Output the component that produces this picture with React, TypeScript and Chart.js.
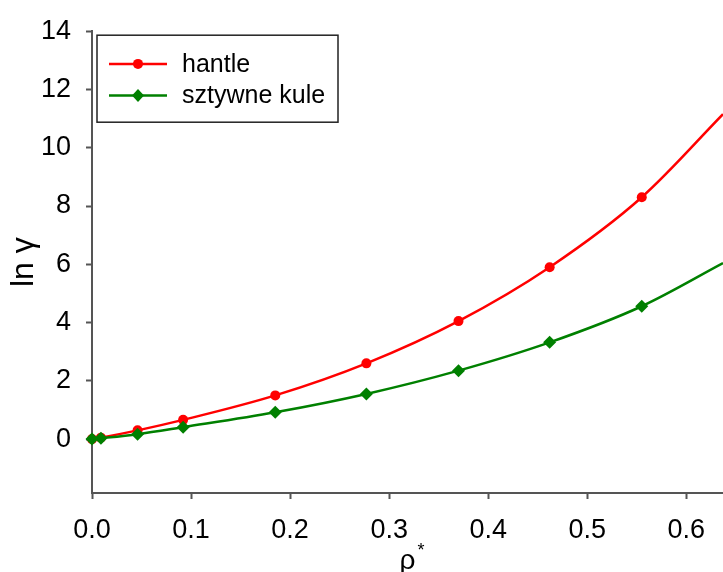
import React, { useEffect, useRef } from "react";
import { Chart, registerables } from "chart.js";

Chart.register(...registerables);

// reduced density (x) at the measured points
const rho = [0, 0.009, 0.046, 0.092, 0.185, 0.277, 0.37, 0.462, 0.555];
// ln gamma for dumbbells ("hantle")
const hantle = [0, 0.05, 0.3, 0.66, 1.5, 2.6, 4.05, 5.9, 8.3];
// ln gamma for hard spheres ("sztywne kule")
const sztywneKule = [0, 0.03, 0.17, 0.41, 0.92, 1.55, 2.35, 3.32, 4.56];
// where each fitted curve leaves the plot on the right edge
const rhoEdge = 0.637;
const hantleEdge = 11.15;
const kuleEdge = 6.04;

const xTicks = [0, 0.1, 0.2, 0.3, 0.4, 0.5, 0.6];
const yTicks = [0, 2, 4, 6, 8, 10, 12, 14];
const seriesNames = ["hantle", "sztywne kule"];
const seriesColors = ["#ff0000", "#008000"];
const seriesMarkers = ["circle", "rectRot"];

const FONT = "'Liberation Sans', Arial, sans-serif";
const AXIS = "#555555";

function drawMarker(ctx: CanvasRenderingContext2D, style: string, x: number, y: number, color: string) {
  ctx.fillStyle = color;
  ctx.beginPath();
  if (style === "circle") {
    ctx.arc(x, y, 5, 0, Math.PI * 2);
  } else {
    ctx.moveTo(x, y - 6.5);
    ctx.lineTo(x + 6, y);
    ctx.lineTo(x, y + 6.5);
    ctx.lineTo(x - 6, y);
    ctx.closePath();
  }
  ctx.fill();
}

const boxLegend = {
  id: "boxLegend",
  afterDatasetsDraw(chart: any) {
    const { ctx, chartArea } = chart;
    const x0 = chartArea.left + 5;
    const y0 = chartArea.top + 4;
    const w = 241;
    const h = 87;
    ctx.save();
    ctx.fillStyle = "#ffffff";
    ctx.fillRect(x0, y0, w, h);
    ctx.strokeStyle = "#222222";
    ctx.lineWidth = 1.5;
    ctx.strokeRect(x0, y0, w, h);
    seriesNames.forEach((name, i) => {
      const y = y0 + 28.7 + i * 31.6;
      ctx.strokeStyle = seriesColors[i];
      ctx.lineWidth = 2.5;
      ctx.beginPath();
      ctx.moveTo(x0 + 12, y);
      ctx.lineTo(x0 + 70, y);
      ctx.stroke();
      drawMarker(ctx, seriesMarkers[i], x0 + 41, y, seriesColors[i]);
      ctx.fillStyle = "#000000";
      ctx.font = `25px ${FONT}`;
      ctx.textBaseline = "middle";
      ctx.textAlign = "left";
      ctx.fillText(name, x0 + 85, y + 1);
    });
    ctx.restore();
  },
};

// superscript asterisk of the x-axis title (rho*)
const titleStar = {
  id: "titleStar",
  afterDraw(chart: any) {
    const { ctx, chartArea } = chart;
    const cx = (chartArea.left + chartArea.right) / 2;
    ctx.save();
    ctx.fillStyle = "#000000";
    ctx.font = `18px ${FONT}`;
    ctx.textAlign = "center";
    ctx.textBaseline = "alphabetic";
    ctx.fillText("*", cx + 13.5, 556);
    ctx.restore();
  },
};

export default function App() {
  const canvasRef = useRef<HTMLCanvasElement | null>(null);

  useEffect(() => {
    if (!canvasRef.current) return;
    const build = (ys: number[], edge: number) => [
      ...rho.map((x, i) => ({ x, y: ys[i] })),
      { x: rhoEdge, y: edge },
    ];
    const radii = (r: number) => [...rho.map(() => r), 0];

    const chart = new Chart(canvasRef.current, {
      type: "line",
      data: {
        datasets: [
          {
            label: seriesNames[0],
            data: build(hantle, hantleEdge),
            borderColor: seriesColors[0],
            backgroundColor: seriesColors[0],
            borderWidth: 2.5,
            pointStyle: "circle",
            pointRadius: radii(5),
            pointBorderWidth: 0,
            cubicInterpolationMode: "monotone",
            clip: false,
            order: 2,
          },
          {
            label: seriesNames[1],
            data: build(sztywneKule, kuleEdge),
            borderColor: seriesColors[1],
            backgroundColor: seriesColors[1],
            borderWidth: 2.5,
            pointStyle: "rectRot",
            pointRadius: radii(6.5),
            pointBorderWidth: 0,
            cubicInterpolationMode: "monotone",
            clip: false,
            order: 1,
          },
        ],
      },
      options: {
        animation: false,
        responsive: false,
        maintainAspectRatio: false,
        devicePixelRatio: 1,
        layout: { autoPadding: false, padding: { top: 29, left: 0, right: 0, bottom: 0 } },
        plugins: {
          legend: { display: false },
          tooltip: { enabled: false },
        },
        scales: {
          x: {
            type: "linear",
            min: 0,
            max: rhoEdge,
            afterBuildTicks: (scale: any) => {
              scale.ticks = xTicks.map((v) => ({ value: v }));
            },
            afterFit: (scale: any) => {
              scale.height = 79;
              scale.paddingRight = 0;
            },
            grid: {
              drawOnChartArea: false,
              drawTicks: true,
              tickLength: 6,
              tickWidth: 2,
              tickColor: AXIS,
              color: AXIS,
            },
            border: { display: true, color: AXIS, width: 2 },
            ticks: {
              padding: 15,
              color: "#000000",
              font: { family: FONT, size: 27 },
              maxRotation: 0,
              callback: (v: any) => Number(v).toFixed(1),
            },
            title: {
              display: true,
              text: "ρ",
              color: "#000000",
              font: { family: FONT, size: 28, lineHeight: 0.75 },
              padding: 0,
            },
          },
          y: {
            type: "linear",
            min: -1.85,
            max: 14,
            afterBuildTicks: (scale: any) => {
              scale.ticks = yTicks.map((v) => ({ value: v }));
            },
            afterFit: (scale: any) => {
              scale.width = 92;
            },
            grid: {
              drawOnChartArea: false,
              drawTicks: true,
              tickLength: 6,
              tickWidth: 2,
              tickColor: AXIS,
              color: AXIS,
            },
            border: { display: true, color: AXIS, width: 2 },
            ticks: {
              padding: 15,
              color: "#000000",
              font: { family: FONT, size: 27 },
              callback: (v: any) => String(v),
            },
            title: {
              display: true,
              text: "ln γ",
              color: "#000000",
              font: { family: FONT, size: 32 },
              padding: { top: 5, bottom: 0 },
            },
          },
        },
      },
      plugins: [boxLegend, titleStar],
    } as any);

    return () => chart.destroy();
  }, []);

  return (
    <div style={{ position: "absolute", left: 0, top: 0, width: 723, height: 572, background: "#ffffff" }}>
      <canvas ref={canvasRef} width={723} height={572} style={{ display: "block" }} />
    </div>
  );
}
